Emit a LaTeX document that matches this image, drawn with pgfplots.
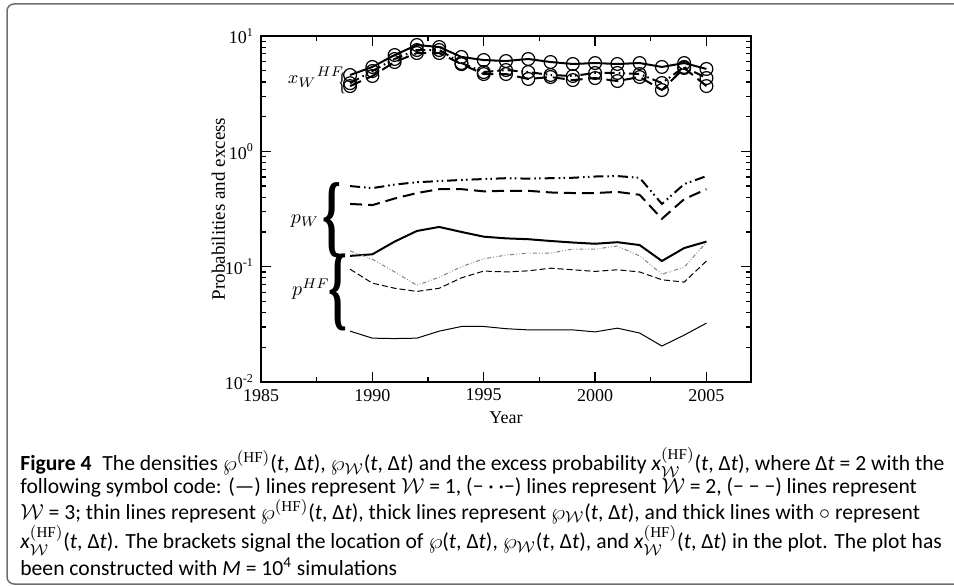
\documentclass[border=0pt]{standalone}
\usepackage{fontspec}
\setmainfont{Liberation Serif}
\newfontfamily\capfont{Carlito}
\usepackage{pgfplots}
\usepackage{pgfplotstable}
\pgfplotsset{compat=1.18}
\definecolor{framegray}{RGB}{110,110,110}

% year, p_W (W=1,2,3), p^HF (W=1,2,3), x_W^HF (W=1,2,3)
\pgfplotstableread{
year pw1   pw2   pw3   ph1    ph2   ph3    xw1  xw2  xw3
1989 0.124 0.500 0.350 0.0276 0.137 0.095  4.59 3.90 3.68
1990 0.128 0.480 0.342 0.0240 0.116 0.072  5.39 4.97 4.50
1991 0.165 0.515 0.390 0.0238 0.090 0.065  6.84 6.32 5.95
1992 0.204 0.540 0.435 0.0240 0.069 0.061  8.36 7.56 7.12
1993 0.221 0.552 0.470 0.0276 0.081 0.065  8.03 7.56 7.12
1994 0.200 0.565 0.470 0.0303 0.100 0.080  6.58 5.83 5.70
1995 0.182 0.575 0.450 0.0303 0.117 0.0916 6.19 4.87 4.68
1996 0.176 0.585 0.455 0.0290 0.126 0.090  6.07 5.07 4.68
1997 0.173 0.580 0.455 0.0283 0.131 0.092  6.32 4.87 4.24
1998 0.167 0.585 0.440 0.0283 0.131 0.097  5.95 4.59 4.41
1999 0.162 0.590 0.435 0.0283 0.142 0.094  5.72 4.50 4.15
2000 0.158 0.605 0.435 0.0272 0.142 0.091  5.83 4.78 4.32
2001 0.163 0.610 0.445 0.0293 0.151 0.094  5.72 4.78 4.07
2002 0.154 0.590 0.420 0.0266 0.124 0.090  5.83 4.68 4.41
2003 0.112 0.350 0.260 0.0205 0.086 0.077  5.39 3.91 3.40
2004 0.145 0.520 0.385 0.0255 0.099 0.0735 5.83 5.39 5.28
2005 0.165 0.610 0.470 0.0324 0.163 0.112  5.18 4.32 3.68
}\data

\newcommand{\tdt}{(\textit{t}, Δ\textit{t})}
\newcommand{\W}{$\mathcal{W}$}

\begin{document}
\begin{tikzpicture}
\path[use as bounding box] (0,0) rectangle (477pt,292.5pt);
\draw[framegray, line width=0.75pt, rounded corners=3.5pt] (490pt,290.5pt) -- (3.5pt,290.5pt) -- (3.5pt,0.5pt) -- (490pt,0.5pt);

\begin{axis}[
  at={(130.5pt,101.5pt)}, anchor=south west,
  scale only axis, width=245pt, height=173pt,
  ymode=log,
  xmin=1985, xmax=2007, ymin=0.01, ymax=10,
  xtick={1985,1990,1995,2000,2005},
  minor x tick num=1,
  ytick={0.01,0.1,1,10},
  yticklabels={10\textsuperscript{-2},10\textsuperscript{-1},10\textsuperscript{0},10\textsuperscript{1}},
  tick align=inside,
  major tick length=5pt, minor tick length=2.5pt,
  every tick/.style={black, line width=0.6pt},
  axis line style={line width=1pt},
  xticklabel style={font=\fontsize{9}{10}\selectfont, /pgf/number format/1000 sep={}, /pgf/number format/assume math mode=true},
  yticklabel style={font=\fontsize{9}{10}\selectfont},
  xlabel={Year}, ylabel={Probabilities and excess},
  xlabel style={font=\fontsize{9}{10}\selectfont, at={(axis description cs:0.5,0)}, anchor=center, yshift=-18pt},
  ylabel style={font=\fontsize{9.5}{10}\selectfont, at={(axis description cs:-0.087,0.5)}, anchor=center},
  clip=false,
]
\addplot[black, line width=1pt] table[x=year,y=pw1] {\data};
\addplot[black, line width=1pt, dash pattern=on 5pt off 2pt on 0.8pt off 1.6pt on 0.8pt off 2pt] table[x=year,y=pw2] {\data};
\addplot[black, line width=1pt, dash pattern=on 6pt off 3pt] table[x=year,y=pw3] {\data};
\addplot[black, line width=0.5pt] table[x=year,y=ph1] {\data};
\addplot[gray, line width=0.5pt, dash pattern=on 2pt off 1pt on 0.4pt off 1pt on 0.4pt off 1pt] table[x=year,y=ph2] {\data};
\addplot[black, line width=0.5pt, dash pattern=on 3pt off 1.5pt] table[x=year,y=ph3] {\data};
\addplot[black, line width=1pt, mark=o, mark size=3.2pt, mark options={solid,line width=0.6pt}] table[x=year,y=xw1] {\data};
\addplot[black, line width=1pt, dash pattern=on 5pt off 2pt on 0.8pt off 1.6pt on 0.8pt off 2pt, mark=o, mark size=3.2pt, mark options={solid,line width=0.6pt}] table[x=year,y=xw2] {\data};
\addplot[black, line width=1pt, dash pattern=on 6pt off 3pt, mark=o, mark size=3.2pt, mark options={solid,line width=0.6pt}] table[x=year,y=xw3] {\data};
\end{axis}

\begin{scope}[x=0.5pt,y=0.5pt]
  % braces and their labels
  \node[inner sep=0pt] at (342,502) {\resizebox*{4pt}{10.5pt}{\{}};
  \node[inner sep=0pt, font=\fontsize{9.5}{10}\selectfont] at (316,508) {${x_W}^{HF}$};
  \node[inner sep=0pt] at (332,364.5) {\resizebox*{9.5pt}{37.5pt}{\bfseries\{}};
  \node[inner sep=0pt, font=\fontsize{10}{10}\selectfont] at (305,364) {$p_W$};
  \node[inner sep=0pt] at (338,292.5) {\resizebox*{9.5pt}{38.5pt}{\bfseries\{}};
  \node[inner sep=0pt, font=\fontsize{10}{10}\selectfont] at (311,296) {$p^{HF}$};
  % caption
  \node[anchor=north west, inner sep=0pt, align=left, font=\capfont\fontsize{10.8}{11.25}\selectfont] at (20,138) {%
\textbf{Figure 4}\enspace The densities $\wp^{(\mathrm{HF})}$\tdt, $\wp_{\mathcal{W}}$\tdt{} and the excess probability \textit{x}$^{(\mathrm{HF})}_{\mathcal{W}}$\tdt, where Δ\textit{t} = 2 with the\\
following symbol code: (—) lines represent \W{} = 1, (− · ·−) lines represent \W{} = 2, (− − −) lines represent\\
\W{} = 3; thin lines represent $\wp^{(\mathrm{HF})}$\tdt, thick lines represent $\wp_{\mathcal{W}}$\tdt, and thick lines with $\circ$ represent\\
\textit{x}$^{(\mathrm{HF})}_{\mathcal{W}}$\tdt. The brackets signal the location of $\wp$\tdt, $\wp_{\mathcal{W}}$\tdt, and \textit{x}$^{(\mathrm{HF})}_{\mathcal{W}}$\tdt{} in the plot. The plot has\\
been constructed with \textit{M} = 10\textsuperscript{4} simulations};
\end{scope}
\end{tikzpicture}
\end{document}
